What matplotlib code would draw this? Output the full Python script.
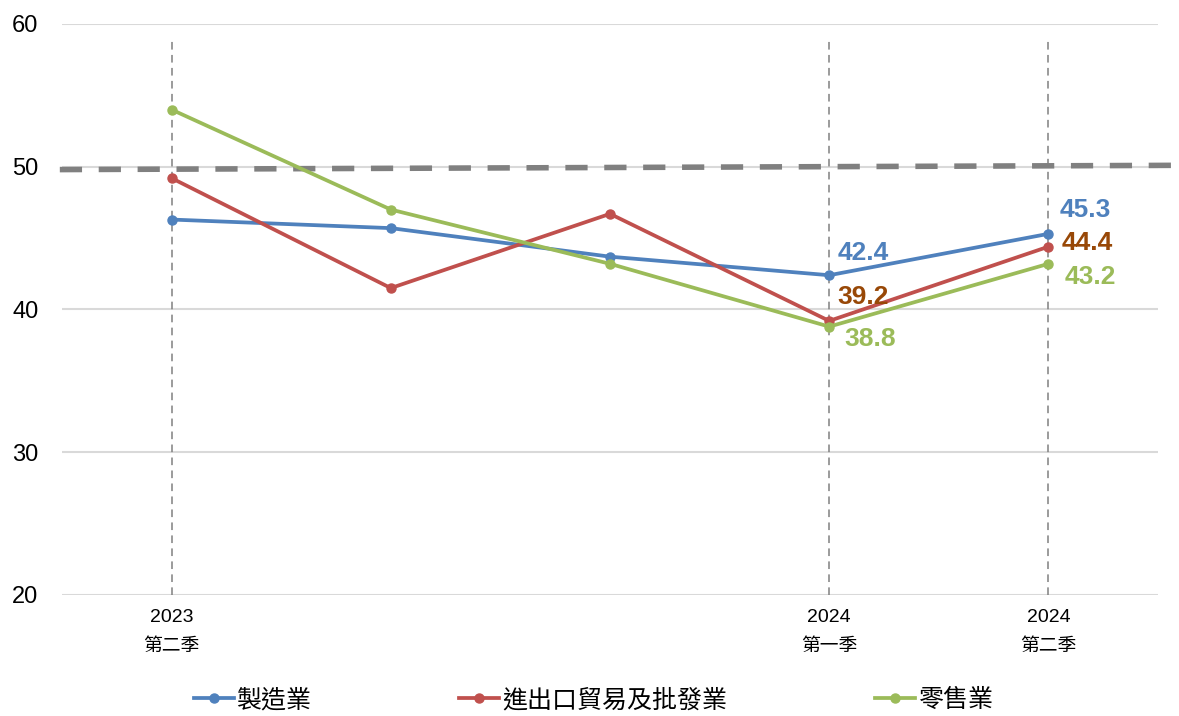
import matplotlib
matplotlib.use("Agg")
import matplotlib.pyplot as plt
import matplotlib.transforms as mtransforms

# 季度 (5 periods, only some labelled)
periods = [0, 1, 2, 3, 4]
tick_pos = [0, 3, 4]
tick_years = ["2023", "2024", "2024"]
tick_quarters = ["第二季", "第一季", "第二季"]

names = ["製造業", "進出口貿易及批發業", "零售業"]
manufacturing = [46.3, 45.7, 43.7, 42.4, 45.3]
trade = [49.2, 41.5, 46.7, 39.2, 44.4]
retail = [54.0, 47.0, 43.2, 38.8, 43.2]
threshold = [49.8, 50.1]

colors = ["#4F81BD", "#C0504D", "#9BBB59"]
label_colors = ["#4F81BD", "#984807", "#9BBB59"]

plt.rcParams["font.family"] = ["Liberation Sans", "Noto Sans CJK TC"]

fig = plt.figure(figsize=(11.79, 7.16), dpi=100)
ax = fig.add_axes([0.0526, 0.169, 0.9296, 0.7975])

series = [manufacturing, trade, retail]
for vals, c, n in zip(series, colors, names):
    ax.plot(periods, vals, color=c, lw=2.7, marker="o", ms=6.5, label=n, zorder=4)

ax.set_xlim(-0.5, 4.5)
ax.set_ylim(20, 60)
ax.set_yticks([20, 30, 40, 50, 60])
ax.yaxis.grid(True, color="#d9d9d9", lw=1.5, zorder=0)
ax.set_axisbelow(True)
for s in ax.spines.values():
    s.set_visible(False)
ax.tick_params(axis="y", length=0, labelsize=17, pad=17)
ax.tick_params(axis="x", length=0, labelbottom=False)
ax.set_xticks(tick_pos)

# vertical reference lines
ax.vlines(tick_pos, 20, 58.9, colors="#808080", lw=1.1, linestyles=(0, (5, 3.5)), zorder=2)

# 50 threshold line, runs past the plot area
x_end = (1179 - 172) / 218.75
ax.plot([-0.51, x_end], threshold, color="#808080", lw=4, ls=(0, (4, 3)),
        clip_on=False, zorder=3)

# tick labels
trans = mtransforms.blended_transform_factory(ax.transData, ax.transAxes)
for x, yr, q in zip(tick_pos, tick_years, tick_quarters):
    ax.text(x, -0.025, yr, transform=trans, ha="center", va="top", fontsize=14)
    ax.text(x, -0.07, q, transform=trans, ha="center", va="top",
            fontsize=13.5, family=["Noto Sans CJK TC"])

# data labels for the last two periods
offsets = {
    (0, 3): (8, 22), (1, 3): (8, 24), (2, 3): (15, -12),
    (0, 4): (11, 24), (1, 4): (13, 4), (2, 4): (16, -13),
}
for (si, pi), (dx, dy) in offsets.items():
    v = series[si][pi]
    ax.annotate(f"{v:.1f}", (periods[pi], v), xytext=(dx, dy),
                textcoords="offset pixels", ha="left", va="center",
                fontsize=19, fontweight="bold", color=label_colors[si], zorder=5)

fig.legend(loc="center", bbox_to_anchor=(0.503, 1 - 700 / 716), ncol=3, frameon=False,
           prop={"family": ["Noto Sans CJK TC"], "size": 18},
           columnspacing=5.9, handlelength=1.6, handletextpad=0.12)

fig.savefig("out.png", dpi=100)
